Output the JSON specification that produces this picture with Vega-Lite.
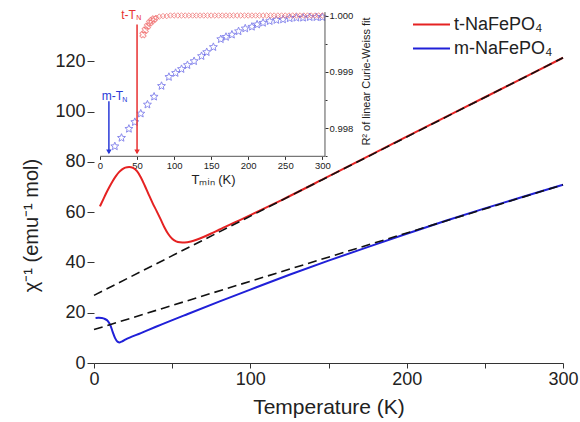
{
  "$schema": "https://vega.github.io/schema/vega-lite/v6.json",
  "width": 469,
  "height": 352,
  "autosize": {"type": "none"},
  "padding": {"left": 94, "top": 11, "right": 17, "bottom": 59},
  "background": "white",
  "config": {
    "view": {"stroke": null},
    "font": "Liberation Sans",
    "axis": {"grid": false, "labelFlush": false, "labelColor": "#222", "titleColor": "#222", "domainColor": "#333", "tickColor": "#333", "labelFont": "Liberation Sans", "titleFont": "Liberation Sans", "titleFontWeight": "normal"}
  },
  "datasets": {
    "curves": [
      {"T": 3.8, "chi": 62.3, "series": "t-NaFePO₄"},
      {"T": 6, "chi": 65.2, "series": "t-NaFePO₄"},
      {"T": 8, "chi": 67.8, "series": "t-NaFePO₄"},
      {"T": 10, "chi": 70.2, "series": "t-NaFePO₄"},
      {"T": 12, "chi": 72.4, "series": "t-NaFePO₄"},
      {"T": 14, "chi": 74.3, "series": "t-NaFePO₄"},
      {"T": 16, "chi": 75.9, "series": "t-NaFePO₄"},
      {"T": 18, "chi": 77.0, "series": "t-NaFePO₄"},
      {"T": 20, "chi": 77.7, "series": "t-NaFePO₄"},
      {"T": 22.5, "chi": 78.0, "series": "t-NaFePO₄"},
      {"T": 25, "chi": 77.6, "series": "t-NaFePO₄"},
      {"T": 27.5, "chi": 76.3, "series": "t-NaFePO₄"},
      {"T": 30, "chi": 73.8, "series": "t-NaFePO₄"},
      {"T": 32.5, "chi": 70.5, "series": "t-NaFePO₄"},
      {"T": 35, "chi": 67.0, "series": "t-NaFePO₄"},
      {"T": 37.5, "chi": 63.6, "series": "t-NaFePO₄"},
      {"T": 40, "chi": 60.5, "series": "t-NaFePO₄"},
      {"T": 42.5, "chi": 57.3, "series": "t-NaFePO₄"},
      {"T": 45, "chi": 54.0, "series": "t-NaFePO₄"},
      {"T": 47.5, "chi": 51.3, "series": "t-NaFePO₄"},
      {"T": 50, "chi": 49.4, "series": "t-NaFePO₄"},
      {"T": 52.5, "chi": 48.4, "series": "t-NaFePO₄"},
      {"T": 55, "chi": 48.0, "series": "t-NaFePO₄"},
      {"T": 58, "chi": 47.9, "series": "t-NaFePO₄"},
      {"T": 62, "chi": 48.3, "series": "t-NaFePO₄"},
      {"T": 66, "chi": 49.1, "series": "t-NaFePO₄"},
      {"T": 70, "chi": 50.1, "series": "t-NaFePO₄"},
      {"T": 75, "chi": 51.5, "series": "t-NaFePO₄"},
      {"T": 80, "chi": 53.0, "series": "t-NaFePO₄"},
      {"T": 90, "chi": 55.9, "series": "t-NaFePO₄"},
      {"T": 100, "chi": 58.8, "series": "t-NaFePO₄"},
      {"T": 110, "chi": 61.8, "series": "t-NaFePO₄"},
      {"T": 120, "chi": 64.8, "series": "t-NaFePO₄"},
      {"T": 150, "chi": 74.2, "series": "t-NaFePO₄"},
      {"T": 200, "chi": 90.0, "series": "t-NaFePO₄"},
      {"T": 250, "chi": 105.7, "series": "t-NaFePO₄"},
      {"T": 300, "chi": 121.4, "series": "t-NaFePO₄"},
      {"T": 1, "chi": 17.9, "series": "m-NaFePO₄"},
      {"T": 3, "chi": 18.0, "series": "m-NaFePO₄"},
      {"T": 5, "chi": 17.9, "series": "m-NaFePO₄"},
      {"T": 7, "chi": 17.5, "series": "m-NaFePO₄"},
      {"T": 9, "chi": 16.6, "series": "m-NaFePO₄"},
      {"T": 10.5, "chi": 15.0, "series": "m-NaFePO₄"},
      {"T": 12, "chi": 12.3, "series": "m-NaFePO₄"},
      {"T": 13.5, "chi": 9.9, "series": "m-NaFePO₄"},
      {"T": 15, "chi": 8.5, "series": "m-NaFePO₄"},
      {"T": 16.5, "chi": 8.2, "series": "m-NaFePO₄"},
      {"T": 18, "chi": 8.6, "series": "m-NaFePO₄"},
      {"T": 20, "chi": 9.3, "series": "m-NaFePO₄"},
      {"T": 30, "chi": 11.9, "series": "m-NaFePO₄"},
      {"T": 40, "chi": 14.5, "series": "m-NaFePO₄"},
      {"T": 60, "chi": 19.5, "series": "m-NaFePO₄"},
      {"T": 80, "chi": 24.4, "series": "m-NaFePO₄"},
      {"T": 100, "chi": 29.2, "series": "m-NaFePO₄"},
      {"T": 125, "chi": 35.1, "series": "m-NaFePO₄"},
      {"T": 150, "chi": 40.7, "series": "m-NaFePO₄"},
      {"T": 175, "chi": 46.1, "series": "m-NaFePO₄"},
      {"T": 200, "chi": 51.4, "series": "m-NaFePO₄"},
      {"T": 225, "chi": 56.6, "series": "m-NaFePO₄"},
      {"T": 250, "chi": 61.5, "series": "m-NaFePO₄"},
      {"T": 275, "chi": 66.2, "series": "m-NaFePO₄"},
      {"T": 300, "chi": 70.9, "series": "m-NaFePO₄"}
    ],
    "fitlines": [
      {"T": 0, "chi": 26.9, "fit": "t"},
      {"T": 300, "chi": 121.4, "fit": "t"},
      {"T": 0, "chi": 13.3, "fit": "m"},
      {"T": 300, "chi": 70.9, "fit": "m"}
    ],
    "mstars": [
      {"Tmin": 20, "R2": 0.99768}, {"Tmin": 29, "R2": 0.99783}, {"Tmin": 39, "R2": 0.99799},
      {"Tmin": 47, "R2": 0.99811}, {"Tmin": 55, "R2": 0.99826}, {"Tmin": 64, "R2": 0.99842},
      {"Tmin": 73, "R2": 0.99856}, {"Tmin": 83, "R2": 0.99875}, {"Tmin": 93, "R2": 0.99891},
      {"Tmin": 102, "R2": 0.99898}, {"Tmin": 110, "R2": 0.99905}, {"Tmin": 118, "R2": 0.99912},
      {"Tmin": 127, "R2": 0.99919}, {"Tmin": 137, "R2": 0.99928}, {"Tmin": 144, "R2": 0.99935},
      {"Tmin": 153, "R2": 0.99944}, {"Tmin": 163, "R2": 0.99958}, {"Tmin": 170, "R2": 0.99962},
      {"Tmin": 178, "R2": 0.99966}, {"Tmin": 187, "R2": 0.99972}, {"Tmin": 196, "R2": 0.99977},
      {"Tmin": 205, "R2": 0.9998}, {"Tmin": 212, "R2": 0.99984}, {"Tmin": 220, "R2": 0.99987},
      {"Tmin": 229, "R2": 0.9999}, {"Tmin": 238, "R2": 0.99992}, {"Tmin": 247, "R2": 0.99993},
      {"Tmin": 256, "R2": 0.99995}, {"Tmin": 265, "R2": 0.99996}, {"Tmin": 274, "R2": 0.99996},
      {"Tmin": 283, "R2": 0.99997}, {"Tmin": 292, "R2": 0.99997}, {"Tmin": 300, "R2": 0.99997}
    ],
    "tdiamonds": [
      {"Tmin": 58, "R2": 0.99966}, {"Tmin": 61, "R2": 0.99974}, {"Tmin": 64, "R2": 0.99981},
      {"Tmin": 67, "R2": 0.99987}, {"Tmin": 70, "R2": 0.99991}, {"Tmin": 73, "R2": 0.99994},
      {"Tmin": 76, "R2": 0.99996}, {"Tmin": 80, "R2": 0.99998}, {"Tmin": 85, "R2": 0.99999},
      {"Tmin": 90, "R2": 0.99999}, {"Tmin": 95, "R2": 1.0}, {"Tmin": 100, "R2": 1.0},
      {"Tmin": 105, "R2": 1.0}, {"Tmin": 110, "R2": 1.0}, {"Tmin": 115, "R2": 1.0},
      {"Tmin": 120, "R2": 1.0}, {"Tmin": 125, "R2": 1.0}, {"Tmin": 130, "R2": 1.0},
      {"Tmin": 135, "R2": 1.0}, {"Tmin": 140, "R2": 1.0}, {"Tmin": 145, "R2": 1.0},
      {"Tmin": 150, "R2": 1.0}, {"Tmin": 155, "R2": 1.0}, {"Tmin": 160, "R2": 1.0},
      {"Tmin": 165, "R2": 1.0}, {"Tmin": 170, "R2": 1.0}, {"Tmin": 175, "R2": 1.0},
      {"Tmin": 180, "R2": 1.0}, {"Tmin": 185, "R2": 1.0}, {"Tmin": 190, "R2": 1.0},
      {"Tmin": 195, "R2": 1.0}, {"Tmin": 200, "R2": 1.0}, {"Tmin": 205, "R2": 1.0},
      {"Tmin": 210, "R2": 1.0}, {"Tmin": 215, "R2": 1.0}, {"Tmin": 220, "R2": 1.0},
      {"Tmin": 225, "R2": 1.0}, {"Tmin": 230, "R2": 1.0}, {"Tmin": 235, "R2": 1.0},
      {"Tmin": 240, "R2": 1.0}, {"Tmin": 245, "R2": 1.0}, {"Tmin": 250, "R2": 1.0},
      {"Tmin": 255, "R2": 1.0}, {"Tmin": 260, "R2": 1.0}, {"Tmin": 265, "R2": 1.0},
      {"Tmin": 270, "R2": 1.0}, {"Tmin": 275, "R2": 1.0}, {"Tmin": 280, "R2": 1.0},
      {"Tmin": 285, "R2": 1.0}, {"Tmin": 290, "R2": 1.0}, {"Tmin": 295, "R2": 1.0},
      {"Tmin": 300, "R2": 1.0}
    ],
    "insetframe": [
      {"Tmin": 0, "Tmin2": 303.6, "R2": 0.997503, "R2b": 0.997503},
      {"Tmin": 303.6, "Tmin2": 303.6, "R2": 0.997503, "R2b": 1.00006}
    ],
    "arrows": [
      {"Tmin": 12, "top": 0.998479, "bottom": 0.99756, "tip": 0.99758, "phase": "m"},
      {"Tmin": 50, "top": 0.99984, "bottom": 0.99756, "tip": 0.99758, "phase": "t"}
    ],
    "tnlabels": [
      {"Tmin": 2.3, "R2": 0.998568, "label": "m-T", "phase": "m", "part": "main"},
      {"Tmin": 30, "R2": 0.998509, "label": "N", "phase": "m", "part": "sub"},
      {"Tmin": 48.5, "R2": 1.0000177, "label": "t-T", "phase": "t", "part": "main"},
      {"Tmin": 49, "R2": 0.99995, "label": "N", "phase": "t", "part": "sub"}
    ]
  },
  "layer": [
    {
      "layer": [
        {
          "data": {"name": "curves"},
          "mark": {"type": "line", "strokeWidth": 2, "interpolate": "monotone"},
          "encoding": {
            "x": {"field": "T", "type": "quantitative", "scale": {"domain": [0, 300], "nice": false},
              "axis": {"orient": "bottom", "title": "Temperature (K)", "values": [0, 50, 100, 150, 200, 250, 300], "labelExpr": "datum.value % 100 === 0 ? datum.label : ''", "tickSize": 5, "labelFontSize": 18, "labelPadding": 2, "titleFontSize": 21, "titlePadding": 8, "domainWidth": 1.2}},
            "y": {"field": "chi", "type": "quantitative", "scale": {"domain": [0, 140], "nice": false},
              "axis": {"orient": "left", "title": "χ⁻¹ (emu⁻¹ mol)", "values": [0, 10, 20, 30, 40, 50, 60, 70, 80, 90, 100, 110, 120, 130], "labelExpr": "datum.value % 20 === 0 ? datum.label : ''", "tickSize": {"condition": {"test": "datum.value % 20 === 0", "value": 7}, "value": 4}, "domain": false, "labelFontSize": 18, "labelPadding": 2, "titleFontSize": 20, "titleAngle": 270, "titleX": -63, "titleY": 214, "titleBaseline": "middle", "titleAlign": "center"}},
            "color": {"field": "series", "type": "nominal", "scale": {"domain": ["t-NaFePO₄", "m-NaFePO₄"], "range": ["#e52222", "#2020d8"]},
              "legend": {"orient": "none", "legendX": 330, "legendY": 0, "title": null, "symbolType": "M-1.96,0L1,0", "symbolSize": 625, "symbolStrokeWidth": 2, "labelFontSize": 18, "labelOffset": 3, "rowPadding": 1, "labelColor": "#222", "labelFont": "Liberation Sans"}}
          }
        },
        {
          "data": {"name": "fitlines"},
          "mark": {"type": "line", "color": "#111", "strokeWidth": 1.6, "strokeDash": [9, 5]},
          "encoding": {
            "x": {"field": "T", "type": "quantitative"},
            "y": {"field": "chi", "type": "quantitative"},
            "detail": {"field": "fit", "type": "nominal"}
          }
        },
        {
          "mark": {"type": "rule", "color": "#333", "strokeWidth": 1.2},
          "encoding": {
            "x": {"datum": 0, "type": "quantitative"},
            "y": {"datum": 0, "type": "quantitative"},
            "y2": {"datum": 133.8}
          }
        }
      ]
    },
    {
      "layer": [
        {
          "data": {"name": "mstars"},
          "mark": {"type": "point", "shape": "M0,-1L0.26,-0.36L0.951,-0.309L0.428,0.139L0.588,0.809L0,0.45L-0.588,0.809L-0.428,0.139L-0.951,-0.309L-0.26,-0.36Z", "filled": false, "color": "#5a5ae6", "size": 70, "strokeWidth": 1},
          "encoding": {
            "x": {"field": "Tmin", "type": "quantitative", "scale": {"domain": [-8.1, 624.8], "nice": false, "zero": false},
              "axis": {"orient": "bottom", "offset": -206.6, "title": "Tₘᵢₙ (K)", "values": [0, 25, 50, 75, 100, 125, 150, 175, 200, 225, 250, 275, 300], "labelExpr": "datum.value % 50 === 0 ? datum.label : ''", "tickSize": {"condition": {"test": "datum.value % 50 === 0", "value": 3}, "value": 2}, "domain": false, "labelFontSize": 9.5, "labelPadding": 1, "titleFontSize": 13, "titleX": 119, "titleY": 23, "titleBaseline": "middle", "titleAlign": "center"}},
            "y": {"field": "R2", "type": "quantitative", "scale": {"domain": [0.993837, 1.00008], "nice": false, "zero": false},
              "axis": {"orient": "right", "offset": -238, "title": "R² of linear Curie-Weiss fit", "values": [0.9975, 0.998, 0.9985, 0.999, 0.9995, 1.0], "labelExpr": "abs(datum.value*1000 - round(datum.value*1000)) < 0.01 ? format(datum.value, '.3f') : ''", "tickSize": {"condition": {"test": "abs(datum.value*1000 - round(datum.value*1000)) < 0.01", "value": 3}, "value": 2}, "domain": false, "labelFontSize": 9.5, "labelPadding": 1, "titleFontSize": 11, "titleAngle": 270, "titleX": 41, "titleY": 70, "titleBaseline": "middle", "titleAlign": "center"}}
          }
        },
        {
          "data": {"name": "tdiamonds"},
          "transform": [{"filter": "datum.Tmin > 73"}],
          "mark": {"type": "point", "shape": "diamond", "filled": false, "color": "#f06868", "size": 30, "strokeWidth": 1},
          "encoding": {
            "x": {"field": "Tmin", "type": "quantitative"},
            "y": {"field": "R2", "type": "quantitative"}
          }
        },
        {
          "data": {"name": "tdiamonds"},
          "transform": [{"filter": "datum.Tmin <= 73"}],
          "mark": {"type": "point", "shape": "cross", "angle": 45, "filled": false, "color": "#f06868", "size": 40, "strokeWidth": 1},
          "encoding": {
            "x": {"field": "Tmin", "type": "quantitative"},
            "y": {"field": "R2", "type": "quantitative"}
          }
        },
        {
          "data": {"name": "insetframe"},
          "mark": {"type": "rule", "color": "#555", "strokeWidth": 1},
          "encoding": {
            "x": {"field": "Tmin", "type": "quantitative"},
            "x2": {"field": "Tmin2"},
            "y": {"field": "R2", "type": "quantitative"},
            "y2": {"field": "R2b"}
          }
        },
        {
          "data": {"name": "arrows"},
          "transform": [{"filter": "datum.phase === 'm'"}],
          "layer": [
            {
              "mark": {"type": "rule", "color": "#2a3ad8", "strokeWidth": 1.5},
              "encoding": {
                "x": {"field": "Tmin", "type": "quantitative"},
                "y": {"field": "top", "type": "quantitative"},
                "y2": {"field": "bottom"}
              }
            },
            {
              "mark": {"type": "point", "shape": "triangle-down", "filled": true, "color": "#2a3ad8", "size": 30, "opacity": 1},
              "encoding": {
                "x": {"field": "Tmin", "type": "quantitative"},
                "y": {"field": "tip", "type": "quantitative"}
              }
            }
          ]
        },
        {
          "data": {"name": "arrows"},
          "transform": [{"filter": "datum.phase === 't'"}],
          "layer": [
            {
              "mark": {"type": "rule", "color": "#e83030", "strokeWidth": 1.5},
              "encoding": {
                "x": {"field": "Tmin", "type": "quantitative"},
                "y": {"field": "top", "type": "quantitative"},
                "y2": {"field": "bottom"}
              }
            },
            {
              "mark": {"type": "point", "shape": "triangle-down", "filled": true, "color": "#e83030", "size": 30, "opacity": 1},
              "encoding": {
                "x": {"field": "Tmin", "type": "quantitative"},
                "y": {"field": "tip", "type": "quantitative"}
              }
            }
          ]
        },
        {
          "data": {"name": "tnlabels"},
          "transform": [{"filter": "datum.phase === 'm' && datum.part === 'main'"}],
          "mark": {"type": "text", "color": "#2a3ad8", "fontSize": 12, "align": "left", "baseline": "middle", "font": "Liberation Sans"},
          "encoding": {
            "x": {"field": "Tmin", "type": "quantitative"},
            "y": {"field": "R2", "type": "quantitative"},
            "text": {"field": "label"}
          }
        },
        {
          "data": {"name": "tnlabels"},
          "transform": [{"filter": "datum.phase === 'm' && datum.part === 'sub'"}],
          "mark": {"type": "text", "color": "#2a3ad8", "fontSize": 7, "align": "left", "baseline": "middle", "font": "Liberation Sans"},
          "encoding": {
            "x": {"field": "Tmin", "type": "quantitative"},
            "y": {"field": "R2", "type": "quantitative"},
            "text": {"field": "label"}
          }
        },
        {
          "data": {"name": "tnlabels"},
          "transform": [{"filter": "datum.phase === 't' && datum.part === 'main'"}],
          "mark": {"type": "text", "color": "#e83030", "fontSize": 12, "align": "right", "baseline": "middle", "font": "Liberation Sans"},
          "encoding": {
            "x": {"field": "Tmin", "type": "quantitative"},
            "y": {"field": "R2", "type": "quantitative"},
            "text": {"field": "label"}
          }
        },
        {
          "data": {"name": "tnlabels"},
          "transform": [{"filter": "datum.phase === 't' && datum.part === 'sub'"}],
          "mark": {"type": "text", "color": "#e83030", "fontSize": 7, "align": "left", "baseline": "middle", "font": "Liberation Sans"},
          "encoding": {
            "x": {"field": "Tmin", "type": "quantitative"},
            "y": {"field": "R2", "type": "quantitative"},
            "text": {"field": "label"}
          }
        }
      ]
    }
  ],
  "resolve": {"scale": {"x": "independent", "y": "independent"}}
}
